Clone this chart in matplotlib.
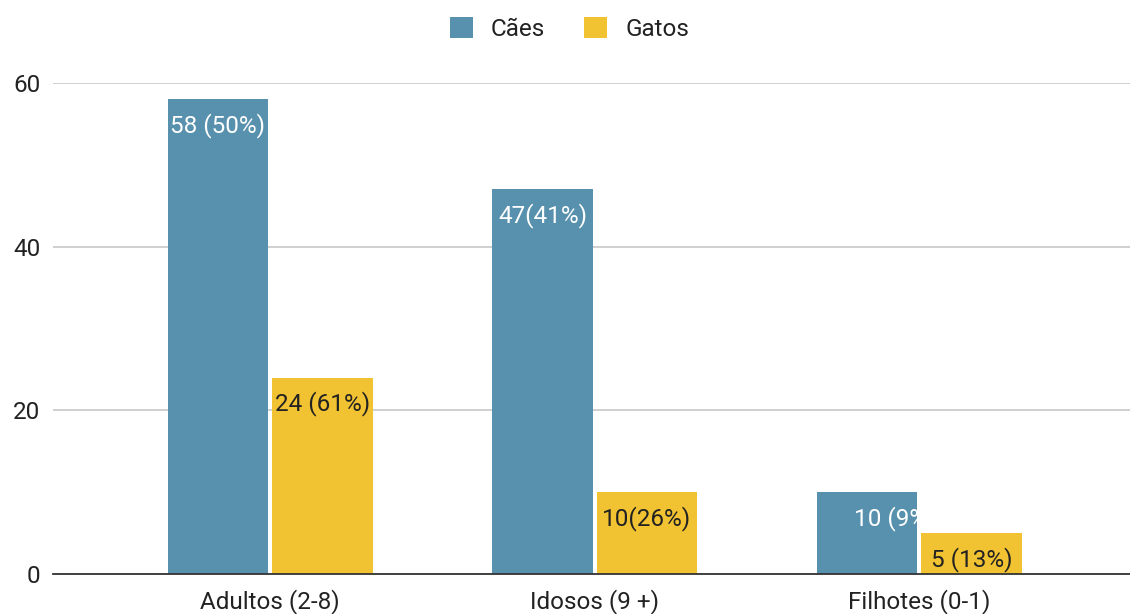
import matplotlib
matplotlib.use("Agg")

import matplotlib.pyplot as plt
import numpy as np
from matplotlib.patches import Patch

categories = ["Adultos (2-8)", "Idosos (9 +)", "Filhotes (0-1)"]
caes = [58, 47, 10]
gatos = [24, 10, 5]
caes_labels = ["58 (50%)", "47(41%)", "10 (9%)"]
gatos_labels = ["24 (61%)", "10(26%)", "5 (13%)"]

BLUE = "#5891AD"
YELLOW = "#F1C232"
FS = 17.5

plt.rcParams["font.family"] = ["Roboto", "DejaVu Sans"]

fig = plt.figure(figsize=(11.3, 6.14), dpi=100)
ax = fig.add_axes([0.047, 0.0651, 0.953, 0.7997])

x = np.arange(len(categories))
width = 0.31
gap = 0.006
bars_c = ax.bar(x - width / 2 - gap, caes, width, color=BLUE, zorder=3)
bars_g = ax.bar(x + width / 2 + gap, gatos, width, color=YELLOW, zorder=3)


def label_bar(bar, text, color, frac=0.5, ha="center"):
    px = bar.get_x() + frac * bar.get_width()
    t = ax.annotate(text, xy=(px, bar.get_height()), xytext=(0, -19),
                    textcoords="offset points", ha=ha, va="center",
                    fontsize=FS, color=color, zorder=4)
    t.set_clip_path(bar)


for bar, text in zip(bars_c[:2], caes_labels[:2]):
    label_bar(bar, text, "white")
for bar, text in zip(bars_g, gatos_labels):
    label_bar(bar, text, "#222222")
# the last blue label sits off-centre and runs past the bar edge
label_bar(bars_c[2], caes_labels[2], "white", frac=0.37, ha="left")

ax.set_xlim(-0.669, 2.650)
ax.set_ylim(0, 60)
ax.set_yticks([0, 20, 40, 60])
ax.set_xticks(x)
ax.set_xticklabels(categories)
ax.tick_params(axis="both", length=0, labelsize=FS, colors="#222222")
ax.tick_params(axis="y", pad=9)
ax.tick_params(axis="x", pad=11)

ax.grid(axis="y", color="#cccccc", linewidth=1.3, zorder=0)
for side in ["top", "right", "left"]:
    ax.spines[side].set_visible(False)
ax.spines["bottom"].set_color("#333333")
ax.spines["bottom"].set_linewidth(1.3)
ax.spines["bottom"].set_zorder(5)

handles = [Patch(facecolor=BLUE, label="Cães"), Patch(facecolor=YELLOW, label="Gatos")]
fig.legend(handles=handles, loc="center", bbox_to_anchor=(0.504, 0.953), ncol=2,
           frameon=False, fontsize=FS, handlelength=0.95, handleheight=0.95,
           handletextpad=0.75, columnspacing=1.6, labelcolor="#222222")

fig.savefig("out.png", dpi=100)
